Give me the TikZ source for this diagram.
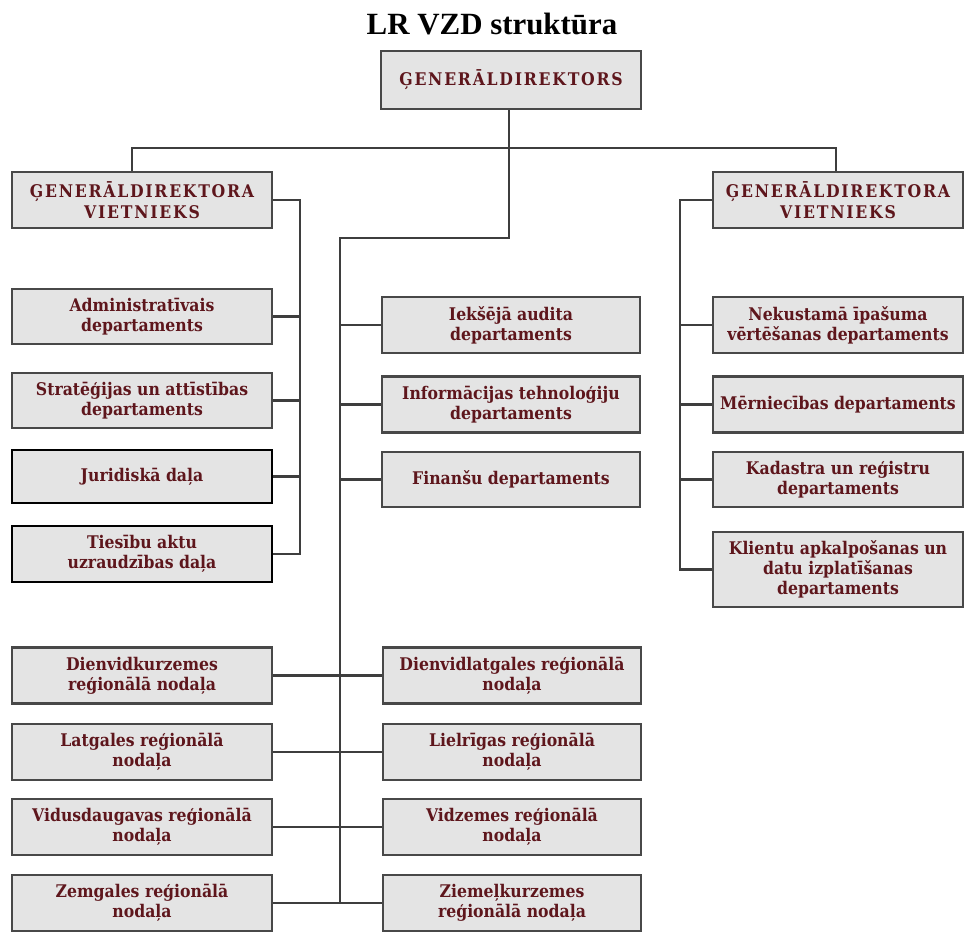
\documentclass[tikz,border=0pt]{standalone}
\usepackage{fontspec}
\setmainfont{Liberation Serif}
\newfontfamily\orgfont{DejaVu Serif Condensed}
\newfontfamily\headfont[LetterSpace=10]{DejaVu Serif Condensed}

\definecolor{unitfill}{RGB}{228,228,228}
\definecolor{unitline}{RGB}{72,72,72}
\definecolor{unittext}{RGB}{94,22,28}
\definecolor{linkgray}{RGB}{62,62,62}

\tikzset{
  unit/.style={draw=unitline, line width=2.6bp, fill=unitfill, text=unittext,
    align=center, inner sep=0pt, minimum height=56bp,
    font=\orgfont\bfseries\fontsize{17.5}{20}\selectfont},
  leftunit/.style={unit, minimum width=260bp},
  midunit/.style={unit, minimum width=258bp},
  rightunit/.style={unit, minimum width=250bp},
  head/.style={font=\headfont\bfseries\fontsize{17.5}{21}\selectfont},
  legal/.style={leftunit, draw=black},
  link/.style={draw=linkgray, line width=2.4bp}
}

\begin{document}
\begin{tikzpicture}[x=1bp,y=-1bp]
\useasboundingbox (0,0) rectangle (965,932);

% Title
\node [font=\bfseries\fontsize{31}{33}\selectfont] (title) at (492,24) {LR VZD struktūra};

% Director and the two deputies
\node [leftunit, head, minimum height=58bp] (gd) at (511,80) {ĢENERĀLDIREKTORS};
\node [leftunit, head] (gdv1) at (142,200) {ĢENERĀLDIREKTORA\\VIETNIEKS};
\node [rightunit, head] (gdv2) at (838,200) {ĢENERĀLDIREKTORA\\VIETNIEKS};

% Units under the first deputy
\node [leftunit, minimum height=55bp] (admin) at (142,316.5) {Administratīvais\\departaments};
\node [leftunit, minimum height=55bp] (strat) at (142,400.5) {Stratēģijas un attīstības\\departaments};
\node [legal, minimum height=53bp] (jur) at (142,476.5) {Juridiskā daļa};
\node [legal] (ties) at (142,554) {Tiesību aktu\\uzraudzības daļa};

% Units under the director
\node [midunit] (iek) at (511,325) {Iekšējā audita\\departaments};
\node [midunit] (inf) at (511,404.5) {Informācijas tehnoloģiju\\departaments};
\node [midunit, minimum height=55bp] (fin) at (511,479.5) {Finanšu departaments};

% Units under the second deputy
\node [rightunit] (nek) at (838,325) {Nekustamā īpašuma\\vērtēšanas departaments};
\node [rightunit] (mer) at (838,404.5) {Mērniecības departaments};
\node [rightunit, minimum height=55bp] (kad) at (838,479.5) {Kadastra un reģistru\\departaments};
\node [rightunit, minimum height=75bp] (kli) at (838,569.5) {Klientu apkalpošanas un\\datu izplatīšanas\\departaments};

% Regional offices
\node [leftunit] (dk) at (142,675.5) {Dienvidkurzemes\\reģionālā nodaļa};
\node [leftunit] (lat) at (142,752) {Latgales reģionālā\\nodaļa};
\node [leftunit] (vid) at (142,827) {Vidusdaugavas reģionālā\\nodaļa};
\node [leftunit] (zem) at (142,903) {Zemgales reģionālā\\nodaļa};
\node [midunit] (dl) at (512,675.5) {Dienvidlatgales reģionālā\\nodaļa};
\node [midunit] (lr) at (512,752) {Lielrīgas reģionālā\\nodaļa};
\node [midunit] (vz) at (512,827) {Vidzemes reģionālā\\nodaļa};
\node [midunit] (zk) at (512,903) {Ziemeļkurzemes\\reģionālā nodaļa};

% Bus lines
\coordinate (topbus) at (509,148);
\coordinate (ldrop) at (132,0);
\coordinate (rdrop) at (836,0);
\coordinate (spinetop) at (340,238);
\coordinate (spinebot) at (340,903);
\coordinate (lbus) at (300,0);
\coordinate (rbus) at (680,0);

% Director to deputies and to the central spine
\draw [link] (gd.south -| topbus) -- (topbus);
\draw [link] (gdv1.north -| ldrop) |- (topbus) -| (gdv2.north -| rdrop);
\draw [link] (topbus) |- (spinetop) -- (spinebot);

% First deputy branch
\draw [link] (gdv1.east) -| (ties.east -| lbus) -- (ties.east);
\foreach \u in {admin,strat,jur}
  \draw [link] (\u.east) -- (\u.east -| lbus);

% Second deputy branch
\draw [link] (gdv2.west) -| (kli.west -| rbus) -- (kli.west);
\foreach \u in {nek,mer,kad}
  \draw [link] (\u.west) -- (\u.west -| rbus);

% Central spine branches
\foreach \u in {iek,inf,fin}
  \draw [link] (\u.west) -- (\u.west -| spinetop);
\foreach \a/\b in {dk/dl,lat/lr,vid/vz,zem/zk}
  \draw [link] (\a.east) -- (\b.west);

\end{tikzpicture}
\end{document}
